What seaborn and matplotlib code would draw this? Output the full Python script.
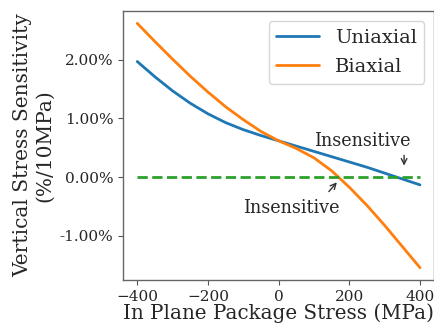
import numpy as np
import pandas as pd
import matplotlib
matplotlib.use("Agg")
import matplotlib.pyplot as plt
import seaborn as sns
from matplotlib.ticker import FuncFormatter

# In-plane package stress (MPa)
stress = [-400, -350, -300, -250, -200, -150, -100, -50, 0,
          50, 100, 150, 200, 250, 300, 350, 400]
# Vertical stress sensitivity (fraction per 10 MPa)
uniaxial = [0.0197, 0.0171, 0.0147, 0.0126, 0.0108, 0.0093, 0.0081, 0.0071, 0.0062,
            0.0053, 0.0044, 0.0035, 0.0026, 0.0017, 0.0007, -0.0003, -0.0013]
biaxial = [0.0262, 0.0231, 0.0201, 0.0172, 0.0145, 0.0120, 0.0098, 0.0078, 0.0062,
           0.0049, 0.0033, 0.0011, -0.0017, -0.0048, -0.0082, -0.0118, -0.0154]
series_names = ["Uniaxial", "Biaxial"]

df = pd.DataFrame({
    "stress": stress * 2,
    "sens": uniaxial + biaxial,
    "mode": [series_names[0]] * len(stress) + [series_names[1]] * len(stress),
})

sns.set_style("ticks")
plt.rcParams["font.family"] = ["DejaVu Serif"]

fig = plt.figure(figsize=(4.35, 3.27), dpi=100)
ax = fig.add_axes([0.283, 0.144, 0.715, 0.822])

sns.lineplot(data=df, x="stress", y="sens", hue="mode", palette=["#1f77b4", "#ff7f0e"],
             linewidth=2, ax=ax)
ax.plot([stress[0], stress[-1]], [0, 0], color="#2ca02c", linestyle="--", linewidth=2)

ax.set_xticks([-400, -200, 0, 200, 400])
ax.set_yticks([-0.01, 0.0, 0.01, 0.02])
ax.yaxis.set_major_formatter(FuncFormatter(lambda v, p: "{:.2%}".format(v)))
ax.tick_params(labelsize=11, length=3.5, color="#555555")
for s in ax.spines.values():
    s.set_color("#666666")
    s.set_linewidth(1.0)

ax.set_xlabel("In Plane Package Stress (MPa)", fontsize=14.3, labelpad=0)
ax.set_ylabel("Vertical Stress Sensitivity\n(%/10MPa)", fontsize=14.5, labelpad=4)

ax.text(237, 0.0062, "Insensitive", fontsize=12.7, ha="center", va="center")
ax.annotate("", xy=(355, 0.0015), xytext=(355, 0.0042),
            arrowprops=dict(arrowstyle="->", color="#333333", lw=1))
ax.text(37, -0.0052, "Insensitive", fontsize=12.7, ha="center", va="center")
ax.annotate("", xy=(170, -0.0005), xytext=(137, -0.0028),
            arrowprops=dict(arrowstyle="->", color="#333333", lw=1))

leg = ax.legend(title=None, fontsize=14, loc="upper right", handlelength=2.2,
                labelspacing=0.6, borderaxespad=0.5, framealpha=0.8)

fig.savefig("out.png", dpi=100)
